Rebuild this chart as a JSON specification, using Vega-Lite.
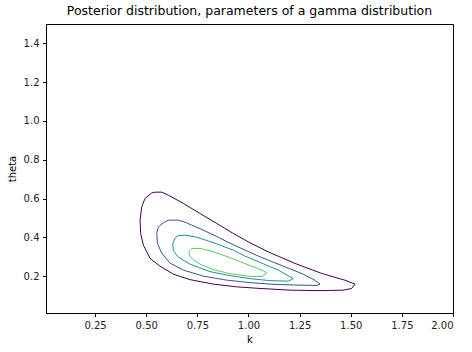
{
  "$schema": "https://vega.github.io/schema/vega-lite/v6.json",
  "width": 407,
  "height": 289,
  "autosize": "none",
  "padding": {"left": 46, "top": 24, "right": 19, "bottom": 39},
  "background": "white",
  "title": {"text": "Posterior distribution, parameters of a gamma distribution", "font": "DejaVu Sans", "fontSize": 12.5, "fontWeight": "normal", "color": "black", "offset": 7},
  "config": {
    "view": {"stroke": "black", "strokeWidth": 1},
    "axis": {"labelFont": "DejaVu Sans", "titleFont": "DejaVu Sans", "labelFontSize": 10, "titleFontSize": 10, "titleFontWeight": "normal", "labelColor": "#222222", "titleColor": "black", "tickColor": "black", "domainColor": "black", "tickSize": 3.5, "labelPadding": 3.5, "grid": false, "domain": true}
  },
  "data": {"values": [
    {"level":"a","i":0,"k":1.521,"theta":0.159},
    {"level":"a","i":1,"k":1.472,"theta":0.179},
    {"level":"a","i":2,"k":1.358,"theta":0.214},
    {"level":"a","i":3,"k":1.2275,"theta":0.2655},
    {"level":"a","i":4,"k":1.097,"theta":0.325},
    {"level":"a","i":5,"k":0.999,"theta":0.3768},
    {"level":"a","i":6,"k":0.926,"theta":0.420},
    {"level":"a","i":7,"k":0.845,"theta":0.4717},
    {"level":"a","i":8,"k":0.763,"theta":0.523},
    {"level":"a","i":9,"k":0.682,"theta":0.5747},
    {"level":"a","i":10,"k":0.608,"theta":0.6175},
    {"level":"a","i":11,"k":0.576,"theta":0.633},
    {"level":"a","i":12,"k":0.543,"theta":0.633},
    {"level":"a","i":13,"k":0.527,"theta":0.629},
    {"level":"a","i":14,"k":0.494,"theta":0.6005},
    {"level":"a","i":15,"k":0.478,"theta":0.557},
    {"level":"a","i":16,"k":0.470,"theta":0.4887},
    {"level":"a","i":17,"k":0.473,"theta":0.420},
    {"level":"a","i":18,"k":0.486,"theta":0.360},
    {"level":"a","i":19,"k":0.519,"theta":0.291},
    {"level":"a","i":20,"k":0.568,"theta":0.2515},
    {"level":"a","i":21,"k":0.633,"theta":0.210},
    {"level":"a","i":22,"k":0.714,"theta":0.182},
    {"level":"a","i":23,"k":0.828,"theta":0.159},
    {"level":"a","i":24,"k":0.9426,"theta":0.1448},
    {"level":"a","i":25,"k":1.0565,"theta":0.1366},
    {"level":"a","i":26,"k":1.203,"theta":0.1278},
    {"level":"a","i":27,"k":1.350,"theta":0.1253},
    {"level":"a","i":28,"k":1.4636,"theta":0.1278},
    {"level":"a","i":29,"k":1.5047,"theta":0.1366},
    {"level":"a","i":30,"k":1.521,"theta":0.159},

    {"level":"b","i":0,"k":1.350,"theta":0.159},
    {"level":"b","i":1,"k":1.3155,"theta":0.1845},
    {"level":"b","i":2,"k":1.2617,"theta":0.2129},
    {"level":"b","i":3,"k":1.164,"theta":0.2541},
    {"level":"b","i":4,"k":1.066,"theta":0.2954},
    {"level":"b","i":5,"k":0.983,"theta":0.334},
    {"level":"b","i":6,"k":0.900,"theta":0.375},
    {"level":"b","i":7,"k":0.8365,"theta":0.4088},
    {"level":"b","i":8,"k":0.763,"theta":0.4448},
    {"level":"b","i":9,"k":0.7226,"theta":0.4629},
    {"level":"b","i":10,"k":0.690,"theta":0.478},
    {"level":"b","i":11,"k":0.657,"theta":0.4887},
    {"level":"b","i":12,"k":0.608,"theta":0.4887},
    {"level":"b","i":13,"k":0.5838,"theta":0.4747},
    {"level":"b","i":14,"k":0.5594,"theta":0.4541},
    {"level":"b","i":15,"k":0.5516,"theta":0.420},
    {"level":"b","i":16,"k":0.5545,"theta":0.3686},
    {"level":"b","i":17,"k":0.576,"theta":0.3186},
    {"level":"b","i":18,"k":0.6166,"theta":0.267},
    {"level":"b","i":19,"k":0.682,"theta":0.2309},
    {"level":"b","i":20,"k":0.7793,"theta":0.200},
    {"level":"b","i":21,"k":0.8937,"theta":0.1794},
    {"level":"b","i":22,"k":1.0076,"theta":0.1665},
    {"level":"b","i":23,"k":1.1298,"theta":0.1572},
    {"level":"b","i":24,"k":1.252,"theta":0.1536},
    {"level":"b","i":25,"k":1.3336,"theta":0.152},
    {"level":"b","i":26,"k":1.350,"theta":0.159},

    {"level":"c","i":0,"k":1.2192,"theta":0.1881},
    {"level":"c","i":1,"k":1.1933,"theta":0.2026},
    {"level":"c","i":2,"k":1.146,"theta":0.2309},
    {"level":"c","i":3,"k":1.0648,"theta":0.267},
    {"level":"c","i":4,"k":0.983,"theta":0.3031},
    {"level":"c","i":5,"k":0.926,"theta":0.334},
    {"level":"c","i":6,"k":0.828,"theta":0.3727},
    {"level":"c","i":7,"k":0.747,"theta":0.401},
    {"level":"c","i":8,"k":0.690,"theta":0.4113},
    {"level":"c","i":9,"k":0.6557,"theta":0.4088},
    {"level":"c","i":10,"k":0.641,"theta":0.3959},
    {"level":"c","i":11,"k":0.6298,"theta":0.3686},
    {"level":"c","i":12,"k":0.633,"theta":0.3314},
    {"level":"c","i":13,"k":0.657,"theta":0.2979},
    {"level":"c","i":14,"k":0.714,"theta":0.2619},
    {"level":"c","i":15,"k":0.812,"theta":0.2232},
    {"level":"c","i":16,"k":0.9098,"theta":0.2026},
    {"level":"c","i":17,"k":1.0076,"theta":0.1871},
    {"level":"c","i":18,"k":1.1053,"theta":0.1768},
    {"level":"c","i":19,"k":1.1948,"theta":0.1742},
    {"level":"c","i":20,"k":1.2192,"theta":0.1881},

    {"level":"d","i":0,"k":1.0892,"theta":0.217},
    {"level":"d","i":1,"k":1.066,"theta":0.2309},
    {"level":"d","i":2,"k":1.0076,"theta":0.2541},
    {"level":"d","i":3,"k":0.9098,"theta":0.2954},
    {"level":"d","i":4,"k":0.812,"theta":0.3314},
    {"level":"d","i":5,"k":0.763,"theta":0.3428},
    {"level":"d","i":6,"k":0.724,"theta":0.3428},
    {"level":"d","i":7,"k":0.7094,"theta":0.3289},
    {"level":"d","i":8,"k":0.7109,"theta":0.3082},
    {"level":"d","i":9,"k":0.729,"theta":0.285},
    {"level":"d","i":10,"k":0.763,"theta":0.2619},
    {"level":"d","i":11,"k":0.8267,"theta":0.2335},
    {"level":"d","i":12,"k":0.9098,"theta":0.2129},
    {"level":"d","i":13,"k":1.0076,"theta":0.1985},
    {"level":"d","i":14,"k":1.066,"theta":0.1985},
    {"level":"d","i":15,"k":1.0892,"theta":0.217}
  ]},
  "mark": {"type": "line", "strokeWidth": 1, "interpolate": "linear"},
  "encoding": {
    "x": {"field": "k", "type": "quantitative", "title": "k", "scale": {"domain": [0.01, 2.0], "nice": false, "zero": false}, "axis": {"values": [0.25, 0.5, 0.75, 1.0, 1.25, 1.5, 1.75, 2.0], "format": ".2f", "titlePadding": 4}},
    "y": {"field": "theta", "type": "quantitative", "title": "theta", "scale": {"domain": [0.01, 1.5], "nice": false, "zero": false}, "axis": {"values": [0.2, 0.4, 0.6, 0.8, 1.0, 1.2, 1.4], "format": ".1f", "titlePadding": 6}},
    "color": {"field": "level", "type": "nominal", "scale": {"domain": ["a", "b", "c", "d"], "range": ["#440154", "#3b528b", "#21918c", "#5ec962"]}, "legend": null},
    "order": {"field": "i", "type": "quantitative"}
  }
}
